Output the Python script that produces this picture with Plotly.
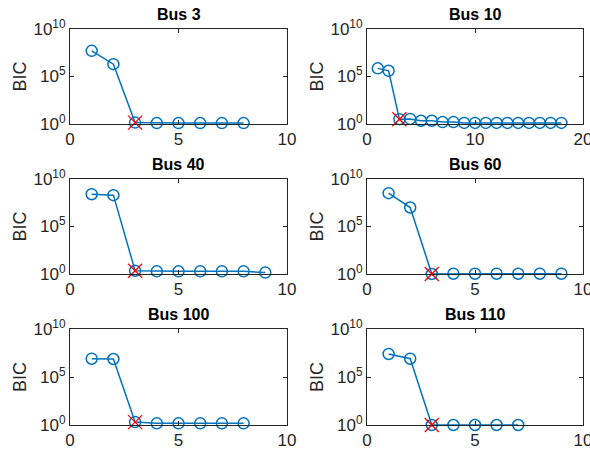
import plotly.graph_objects as go

# BIC versus number of components, one panel per bus
bus_names = ["Bus 3", "Bus 10", "Bus 40", "Bus 60", "Bus 100", "Bus 110"]

bic_bus3 = [5.0e7, 2.0e6, 1.4, 1.25, 1.25, 1.25, 1.25, 1.25]
bic_bus10 = [7.2e5, 4.0e5, 3.2, 3.4, 2.2, 2.2, 1.6, 1.6, 1.3, 1.3,
             1.3, 1.3, 1.3, 1.3, 1.3, 1.3, 1.3, 1.3]
bic_bus40 = [2.5e8, 2.0e8, 2.2, 1.9, 1.9, 1.9, 1.9, 1.9, 1.4]
bic_bus60 = [3.2e8, 1.0e7, 1.0, 1.07, 1.07, 1.07, 1.07, 1.07, 1.07]
bic_bus100 = [8.0e6, 7.5e6, 2.0, 1.5, 1.5, 1.5, 1.5, 1.5]
bic_bus110 = [2.5e7, 8.0e6, 1.0, 1.0, 1.0, 1.0, 1.0]

bic_series = [bic_bus3, bic_bus10, bic_bus40, bic_bus60, bic_bus100, bic_bus110]
best_k = [3, 3, 3, 3, 3, 3]
x_max = [10, 20, 10, 10, 10, 10]
x_dtick = [5, 10, 5, 5, 5, 5]

y_tickvals = [1, 1e5, 1e10]
y_ticktext = ["10<sup>0</sup>", "10<sup>5</sup>", "10<sup>10</sup>"]

W, H = 590, 453
col_px = [(70, 287), (367, 583)]
row_px = [(29, 124), (179, 274), (329, 425)]

BLUE = "#0072BD"
AX = "#262626"
FONT = "Liberation Sans, Arial, sans-serif"

fig = go.Figure()
annotations = []
layout_axes = {}

for i, (name, vals) in enumerate(zip(bus_names, bic_series)):
    r, c = divmod(i, 2)
    n = i + 1
    xa = "x" if n == 1 else f"x{n}"
    ya = "y" if n == 1 else f"y{n}"
    ks = list(range(1, len(vals) + 1))
    fig.add_trace(go.Scatter(
        x=ks, y=vals, mode="lines+markers", xaxis=xa, yaxis=ya,
        line=dict(color=BLUE, width=1.5),
        marker=dict(symbol="circle-open", size=11, color=BLUE,
                    line=dict(width=1.5, color=BLUE)),
        cliponaxis=False, showlegend=False))
    kb = best_k[i]
    fig.add_trace(go.Scatter(
        x=[kb], y=[vals[kb - 1]], mode="markers", xaxis=xa, yaxis=ya,
        marker=dict(symbol="x-thin-open", size=14, color="red",
                    line=dict(width=1.3, color="red")),
        cliponaxis=False, showlegend=False))

    x0, x1 = col_px[c]
    y0, y1 = row_px[r]
    dom_x = [x0 / W, x1 / W]
    dom_y = [1 - y1 / H, 1 - y0 / H]
    axkey = "xaxis" if n == 1 else f"xaxis{n}"
    aykey = "yaxis" if n == 1 else f"yaxis{n}"
    layout_axes[axkey] = dict(
        domain=dom_x, anchor=ya, range=[0, x_max[i]], dtick=x_dtick[i],
        tick0=0, showgrid=False, zeroline=False, showline=True,
        linecolor=AX, linewidth=1, mirror="allticks", ticks="inside",
        ticklen=4, tickcolor=AX, automargin=False,
        ticklabeloverflow="allow",
        tickfont=dict(family=FONT, size=17, color=AX))
    layout_axes[aykey] = dict(
        domain=dom_y, anchor=xa, type="log", range=[0, 10],
        tickvals=y_tickvals, ticktext=y_ticktext,
        showgrid=False, zeroline=False, showline=True,
        linecolor=AX, linewidth=1, mirror="allticks", ticks="inside",
        ticklen=4, tickcolor=AX, automargin=False,
        ticklabeloverflow="allow",
        tickfont=dict(family=FONT, size=17, color=AX),
        title=dict(text="BIC", standoff=2,
                   font=dict(family=FONT, size=18, color=AX)))
    annotations.append(dict(
        text=f"<b>{name}</b>", x=(dom_x[0] + dom_x[1]) / 2, y=dom_y[1],
        xref="paper", yref="paper", xanchor="center", yanchor="bottom",
        yshift=4, showarrow=False,
        font=dict(family=FONT, size=16, color="black")))

fig.update_layout(
    width=W, height=H, margin=dict(l=0, r=0, t=0, b=0),
    paper_bgcolor="white", plot_bgcolor="white",
    annotations=annotations, **layout_axes)

fig.write_html("out.html")
